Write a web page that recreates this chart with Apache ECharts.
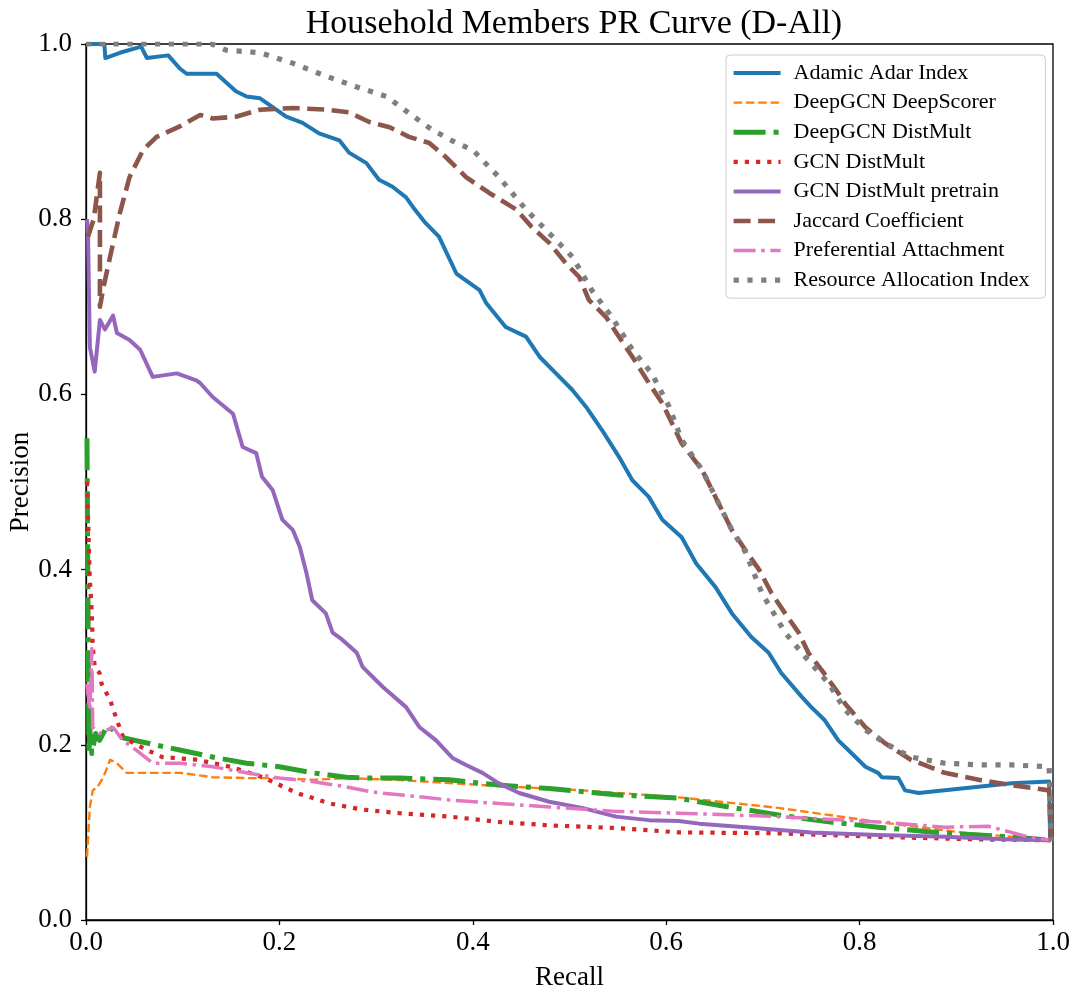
<!DOCTYPE html>
<html>
<head>
<meta charset="utf-8">
<script src="https://cdn.jsdelivr.net/npm/echarts@6/dist/echarts.min.js"></script>
<style>
html,body{margin:0;padding:0;background:#fff;}
#c{width:1081px;height:989px;}
</style>
</head>
<body>
<div id="c"></div>
<script>
// ---- data (recall, precision) ----
const seriesNames = ["Adamic Adar Index","DeepGCN DeepScorer","DeepGCN DistMult","GCN DistMult","GCN DistMult pretrain","Jaccard Coefficient","Preferential Attachment","Resource Allocation Index"];
const xTicks = [0.0,0.2,0.4,0.6,0.8,1.0];
const yTicks = [0.0,0.2,0.4,0.6,0.8,1.0];

const adamic = [[0,1],[0.019,1],[0.02,0.984],[0.035,0.99],[0.057,0.997],[0.063,0.984],[0.085,0.987],[0.097,0.972],[0.104,0.966],[0.135,0.966],[0.155,0.946],[0.166,0.94],[0.18,0.938],[0.193,0.928],[0.207,0.917],[0.224,0.91],[0.241,0.898],[0.262,0.89],[0.272,0.876],[0.29,0.864],[0.303,0.845],[0.317,0.837],[0.331,0.825],[0.338,0.814],[0.35,0.797],[0.365,0.78],[0.383,0.738],[0.407,0.719],[0.414,0.704],[0.434,0.677],[0.455,0.666],[0.469,0.643],[0.486,0.624],[0.503,0.605],[0.517,0.586],[0.535,0.557],[0.551,0.529],[0.565,0.502],[0.582,0.483],[0.596,0.457],[0.616,0.437],[0.631,0.407],[0.651,0.38],[0.668,0.35],[0.688,0.323],[0.706,0.305],[0.719,0.282],[0.74,0.255],[0.75,0.243],[0.764,0.228],[0.778,0.205],[0.792,0.19],[0.806,0.175],[0.819,0.168],[0.823,0.163],[0.84,0.162],[0.847,0.148],[0.861,0.145],[0.888,0.148],[0.923,0.152],[0.957,0.156],[0.996,0.158],[0.997,0.091]];

const deepScorer = [[0.001,0.072],[0.004,0.129],[0.007,0.148],[0.012,0.152],[0.018,0.163],[0.025,0.183],[0.032,0.179],[0.042,0.168],[0.063,0.168],[0.097,0.168],[0.131,0.163],[0.166,0.162],[0.2,0.162],[0.234,0.16],[0.269,0.162],[0.32,0.16],[0.41,0.154],[0.513,0.148],[0.613,0.14],[0.716,0.128],[0.819,0.112],[0.905,0.1],[0.957,0.095],[0.998,0.091]];

const deepDistMult = [[0.001,0.55],[0.003,0.19],[0.004,0.217],[0.006,0.19],[0.01,0.213],[0.014,0.205],[0.022,0.222],[0.028,0.217],[0.038,0.208],[0.063,0.202],[0.097,0.194],[0.131,0.186],[0.166,0.179],[0.2,0.175],[0.234,0.168],[0.269,0.163],[0.29,0.162],[0.324,0.162],[0.376,0.16],[0.427,0.154],[0.479,0.15],[0.548,0.143],[0.613,0.139],[0.665,0.129],[0.716,0.12],[0.768,0.112],[0.819,0.106],[0.888,0.099],[0.957,0.095],[0.998,0.091]];

const gcnDistMult = [[0.001,0.5],[0.004,0.388],[0.006,0.35],[0.007,0.312],[0.009,0.289],[0.014,0.282],[0.016,0.27],[0.025,0.251],[0.032,0.228],[0.038,0.21],[0.049,0.202],[0.063,0.194],[0.079,0.186],[0.114,0.183],[0.149,0.175],[0.183,0.163],[0.218,0.145],[0.252,0.133],[0.286,0.126],[0.324,0.122],[0.376,0.118],[0.427,0.112],[0.479,0.108],[0.548,0.105],[0.613,0.1],[0.716,0.099],[0.819,0.095],[0.923,0.092],[0.998,0.091]];

const gcnPretrain = [[0.001,0.8],[0.002,0.788],[0.004,0.654],[0.009,0.626],[0.0144,0.685],[0.0196,0.674],[0.028,0.69],[0.032,0.67],[0.045,0.662],[0.056,0.651],[0.069,0.62],[0.094,0.624],[0.114,0.616],[0.118,0.613],[0.131,0.597],[0.152,0.578],[0.162,0.54],[0.176,0.533],[0.182,0.506],[0.193,0.491],[0.203,0.457],[0.214,0.445],[0.221,0.426],[0.228,0.396],[0.234,0.365],[0.248,0.35],[0.255,0.328],[0.265,0.32],[0.28,0.305],[0.286,0.289],[0.307,0.266],[0.331,0.243],[0.345,0.22],[0.362,0.205],[0.379,0.185],[0.393,0.177],[0.41,0.168],[0.427,0.156],[0.448,0.145],[0.479,0.135],[0.513,0.128],[0.548,0.118],[0.582,0.114],[0.613,0.113],[0.634,0.11],[0.682,0.106],[0.75,0.1],[0.819,0.097],[0.888,0.095],[0.957,0.092],[0.998,0.091]];

const jaccard = [[0.002,0.78],[0.008,0.8],[0.0144,0.853],[0.0144,0.7],[0.018,0.722],[0.0265,0.765],[0.035,0.807],[0.045,0.848],[0.059,0.879],[0.073,0.894],[0.097,0.906],[0.118,0.919],[0.131,0.915],[0.155,0.917],[0.18,0.925],[0.214,0.927],[0.249,0.925],[0.272,0.922],[0.293,0.911],[0.314,0.905],[0.334,0.894],[0.355,0.887],[0.372,0.871],[0.393,0.848],[0.417,0.83],[0.445,0.811],[0.461,0.791],[0.479,0.773],[0.496,0.75],[0.51,0.734],[0.52,0.708],[0.538,0.688],[0.551,0.666],[0.565,0.643],[0.582,0.613],[0.596,0.59],[0.616,0.544],[0.637,0.514],[0.654,0.476],[0.668,0.445],[0.682,0.422],[0.696,0.4],[0.709,0.373],[0.723,0.35],[0.737,0.328],[0.747,0.305],[0.761,0.285],[0.778,0.259],[0.785,0.247],[0.806,0.22],[0.826,0.202],[0.853,0.183],[0.888,0.168],[0.923,0.16],[0.957,0.154],[0.996,0.148],[0.998,0.09]];

const prefAttach = [[0.001,0.27],[0.004,0.24],[0.006,0.31],[0.007,0.22],[0.014,0.213],[0.022,0.217],[0.028,0.22],[0.038,0.205],[0.052,0.194],[0.069,0.179],[0.097,0.179],[0.131,0.175],[0.166,0.168],[0.2,0.162],[0.234,0.158],[0.269,0.152],[0.296,0.146],[0.324,0.143],[0.376,0.137],[0.427,0.133],[0.479,0.129],[0.548,0.124],[0.613,0.122],[0.716,0.118],[0.819,0.112],[0.888,0.106],[0.933,0.107],[0.974,0.095],[0.998,0.091]];

const resAlloc = [[0,1],[0.13,1],[0.145,0.993],[0.18,0.99],[0.214,0.978],[0.249,0.963],[0.28,0.951],[0.311,0.94],[0.334,0.921],[0.358,0.902],[0.383,0.887],[0.4,0.879],[0.427,0.848],[0.455,0.811],[0.479,0.784],[0.503,0.757],[0.523,0.719],[0.544,0.688],[0.565,0.651],[0.585,0.624],[0.603,0.586],[0.616,0.548],[0.637,0.514],[0.654,0.476],[0.668,0.445],[0.682,0.42],[0.699,0.373],[0.723,0.328],[0.744,0.3],[0.768,0.27],[0.785,0.24],[0.806,0.217],[0.826,0.202],[0.853,0.186],[0.888,0.179],[0.923,0.177],[0.957,0.177],[0.996,0.175],[0.998,0.09]];

const seriesData = [adamic, deepScorer, deepDistMult, gcnDistMult, gcnPretrain, jaccard, prefAttach, resAlloc];
const colors = ["#1f77b4","#ff7f0e","#2ca02c","#d62728","#9467bd","#8c564b","#e377c2","#7f7f7f"];
const widths = [4, 2.4, 5, 4.2, 4, 4.6, 3.5, 5.2];
const dashes = ['solid', [8.5,3.8], [32,8,5,8], [4.2,7], 'solid', [17,7.5], [22,5.6,3.5,5.6], [5.2,8.6]];

const FONT = "Liberation Serif";
const chart = echarts.init(document.getElementById('c'), null, {renderer:'canvas'});
const option = {
  animation: false,
  backgroundColor: '#fff',
  title: {
    text: 'Household Members PR Curve (D-All)',
    left: 569, textAlign: 'center', top: 2,
    textStyle: {fontFamily: FONT, fontSize: 34, fontWeight: 'normal', color: '#000'}
  },
  grid: {left: 86, right: 28, top: 44, bottom: 69, outerBoundsMode: 'none', containLabel: false,
          show: true, borderColor: '#000', borderWidth: 1.3, backgroundColor: 'transparent'},
  legend: {
    orient: 'vertical', left: 726, top: 55,
    data: seriesNames.map((n, i) => ({name: n, lineStyle: {width: widths[i], type: dashes[i], color: colors[i], cap: 'butt'}})),
    itemWidth: 47, itemHeight: 14, itemGap: 7.6,
    padding: [7, 16, 7, 5],
    backgroundColor: 'rgba(255,255,255,0.8)',
    borderColor: '#cccccc', borderWidth: 1, borderRadius: 4,
    itemStyle: {color: 'rgba(0,0,0,0)', borderWidth: 0, opacity: 0},
    textStyle: {fontFamily: FONT, fontSize: 22, color: '#000', padding: [0,0,0,8]},
    selectedMode: false
  },
  xAxis: {
    type: 'value', min: 0, max: 1, interval: 0.2,
    name: 'Recall', nameLocation: 'middle', nameGap: 44, nameMoveOverlap: false,
    nameTextStyle: {fontFamily: FONT, fontSize: 27, color: '#000'},
    axisLine: {show: true, lineStyle: {color: '#000', width: 1.3}},
    axisTick: {show: true, length: 5, lineStyle: {color: '#000', width: 1.3}},
    axisLabel: {fontFamily: FONT, fontSize: 27, color: '#000', margin: 9, formatter: v => xTicks.includes(+v.toFixed(1)) ? v.toFixed(1) : ''},
    splitLine: {show: false}
  },
  yAxis: {
    type: 'value', min: 0, max: 1, interval: 0.2,
    name: 'Precision', nameLocation: 'middle', nameGap: 52, nameRotate: 90, nameMoveOverlap: false,
    nameTextStyle: {fontFamily: FONT, fontSize: 27, color: '#000'},
    axisLine: {show: true, lineStyle: {color: '#000', width: 1.3}},
    axisTick: {show: true, length: 5, lineStyle: {color: '#000', width: 1.3}},
    axisLabel: {fontFamily: FONT, fontSize: 27, color: '#000', margin: 14, formatter: v => yTicks.includes(+v.toFixed(1)) ? v.toFixed(1) : ''},
    splitLine: {show: false}
  },
  series: seriesNames.map((n, i) => ({
    name: n, type: 'line', data: seriesData[i],
    symbol: 'none', showSymbol: false, smooth: false,
    clip: true, z: 2 + i,
    lineStyle: {color: colors[i], width: widths[i], type: dashes[i], cap: 'butt', join: 'round'},
    itemStyle: {color: colors[i]}
  }))
};
chart.setOption(option);
</script>
</body>
</html>
